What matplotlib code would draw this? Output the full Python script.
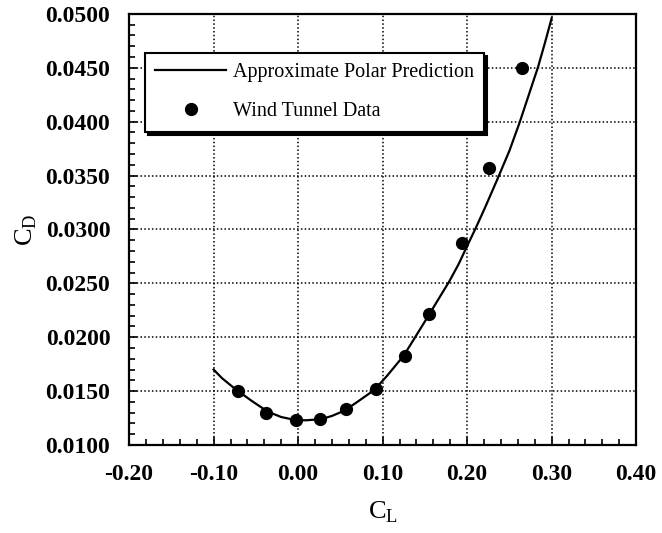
import numpy as np
import matplotlib
matplotlib.use("Agg")
import matplotlib.pyplot as plt
from matplotlib.ticker import MultipleLocator, FormatStrFormatter

# approximate polar prediction
cl_curve = [-0.100, -0.090, -0.076, -0.055, -0.036, -0.020, -0.002, 0.010, 0.027,
            0.040, 0.055, 0.070, 0.090, 0.105, 0.125, 0.140, 0.155, 0.165, 0.179,
            0.190, 0.199, 0.210, 0.221, 0.236, 0.250, 0.262, 0.273, 0.284, 0.292, 0.300]
cd_curve = [0.0170, 0.0162, 0.0153, 0.0141, 0.0131, 0.0126, 0.0123, 0.0123, 0.0124,
            0.0127, 0.0132, 0.0140, 0.0151, 0.0164, 0.0183, 0.0202, 0.0221, 0.0234, 0.0252,
            0.0268, 0.0283, 0.0301, 0.0320, 0.0347, 0.0373, 0.0399, 0.0425, 0.0451, 0.0473, 0.0496]

# wind tunnel data
cl_data = [-0.071, -0.038, -0.003, 0.026, 0.057, 0.092, 0.126, 0.155, 0.194, 0.226, 0.265]
cd_data = [0.0150, 0.0130, 0.0123, 0.0124, 0.0133, 0.0152, 0.0183, 0.0222, 0.0287, 0.0357, 0.0450]

plt.rcParams['font.family'] = ['Liberation Serif', 'DejaVu Serif']
plt.rcParams['mathtext.fontset'] = 'custom'
plt.rcParams['mathtext.rm'] = 'Liberation Serif'

fig = plt.figure(figsize=(6.62, 5.33), dpi=100)
ax = fig.add_axes([0.195, 0.165, 0.766, 0.809])

ax.plot(cl_curve, cd_curve, color='black', lw=1.6, label='Approximate Polar Prediction')
ax.plot(cl_data, cd_data, 'o', color='black', ms=8.5, label='Wind Tunnel Data')

ax.set_xlim(-0.2, 0.4)
ax.set_ylim(0.01, 0.05)
ax.xaxis.set_major_locator(MultipleLocator(0.1))
ax.xaxis.set_minor_locator(MultipleLocator(0.02))
ax.yaxis.set_major_locator(MultipleLocator(0.005))
ax.yaxis.set_minor_locator(MultipleLocator(0.001))
ax.xaxis.set_major_formatter(FormatStrFormatter('%.2f'))
ax.yaxis.set_major_formatter(FormatStrFormatter('%.4f'))

ax.grid(True, which='major', color='black', linestyle=(0, (1, 1.5)), lw=1.1)
ax.tick_params(which='both', direction='in', top=False, right=False, width=1.2)
ax.tick_params(which='major', length=6)
ax.tick_params(which='minor', length=4.5)
ax.tick_params(axis='y', which='major', pad=13.5)
ax.tick_params(axis='x', which='major', pad=14)
for lab in ax.get_xticklabels() + ax.get_yticklabels():
    lab.set_fontsize(17)
    lab.set_fontweight('bold')
for s in ax.spines.values():
    s.set_linewidth(1.6)

ax.set_xlabel(r'C$_\mathregular{L}$', fontsize=19, labelpad=10)
ax.set_ylabel(r'C$_\mathregular{D}$', fontsize=19, labelpad=5)

leg = ax.legend(loc='upper left', bbox_to_anchor=(0.032, 0.909), borderaxespad=0,
                fontsize=14.5, frameon=True, fancybox=False, handlelength=3.5,
                labelspacing=1.0, borderpad=0.5, handletextpad=0.35,
                shadow={'color': 'black', 'alpha': 1.0, 'ox': 2.2, 'oy': -2.2})
leg.get_frame().set_edgecolor('black')
leg.get_frame().set_linewidth(1.5)

fig.savefig('out.png', dpi=100)
